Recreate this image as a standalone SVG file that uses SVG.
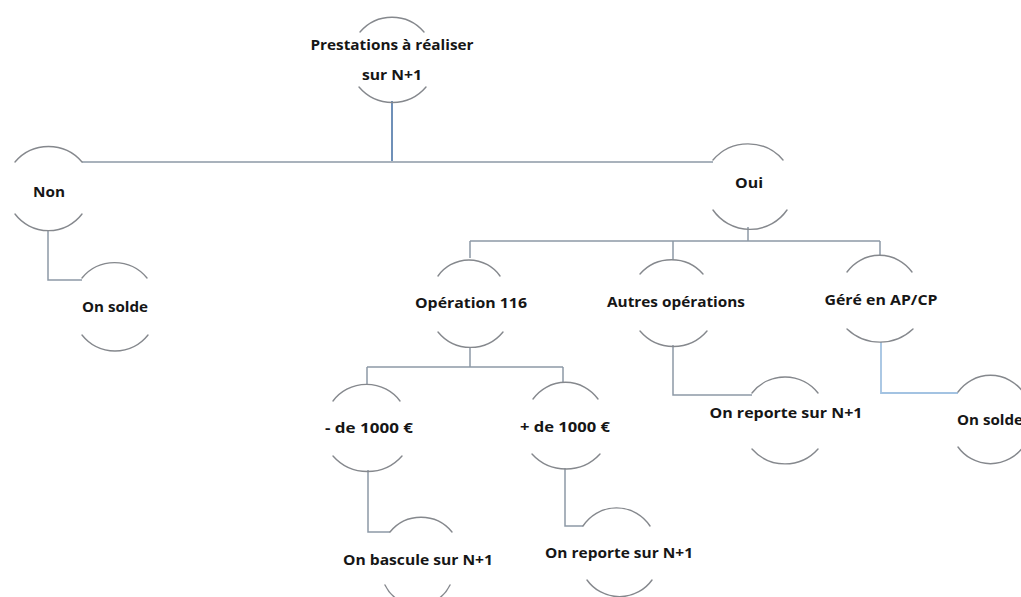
<svg xmlns="http://www.w3.org/2000/svg" width="1021" height="597" viewBox="0 0 1021 597">
  <style>
    .arc { fill: none; stroke: #85888d; stroke-width: 1.4; stroke-linecap: round; }
    .lbl { font-family: "Open Sans", "Noto Sans", "Liberation Sans", sans-serif; font-size: 15px; font-weight: 700; fill: #161616; text-anchor: middle; }
    .link { fill: none; stroke: #8d99a6; stroke-width: 1.5; }
    .link-blue { fill: none; stroke: #6f90b8; stroke-width: 2; }
    .link-light { fill: none; stroke: #a3c3e2; stroke-width: 1.8; }
  </style>
  <rect width="1021" height="597" fill="#ffffff"/>

  <!-- connectors -->
  <g id="connectors">
    <path class="link-blue" d="M392,101 V161"/>
    <path class="link" d="M82,162 H713"/>
    <path class="link" d="M48,230 V280 H82"/>
    <path class="link" d="M748,227 V241"/>
    <path class="link" d="M470,241 H880"/>
    <path class="link" d="M470,241 V258"/>
    <path class="link" d="M673,241 V260"/>
    <path class="link" d="M880,241 V256"/>
    <path class="link" d="M470,347 V367"/>
    <path class="link" d="M367,367 H563"/>
    <path class="link" d="M367,367 V385"/>
    <path class="link" d="M563,367 V383"/>
    <path class="link" d="M368,470 V532 H390"/>
    <path class="link" d="M565,468 V526 H583"/>
    <path class="link" d="M673,345 V395 H752"/>
    <path class="link-light" d="M881,342 V393 H958"/>
  </g>

  <!-- nodes: a circular arc above and below each label -->
  <g id="node-prestations">
    <path class="arc" d="M360,32 A42,42 0 0 1 424,32"/>
    <text class="lbl" x="392" y="50" textLength="163" lengthAdjust="spacingAndGlyphs">Prestations à réaliser</text>
    <text class="lbl" x="392" y="80" textLength="60" lengthAdjust="spacingAndGlyphs">sur N+1</text>
    <path class="arc" d="M359,87 A44,44 0 0 0 426,87"/>
  </g>

  <g id="node-non">
    <path class="arc" d="M15,162 A44,44 0 0 1 82,162"/>
    <text class="lbl" x="49" y="197" textLength="32" lengthAdjust="spacingAndGlyphs">Non</text>
    <path class="arc" d="M15,214 A42,42 0 0 0 82,214"/>
  </g>

  <g id="node-solde-left">
    <path class="arc" d="M82,278 A42,42 0 0 1 147,278"/>
    <text class="lbl" x="115" y="312" textLength="66" lengthAdjust="spacingAndGlyphs">On solde</text>
    <path class="arc" d="M82,335 A42,42 0 0 0 148,335"/>
  </g>

  <g id="node-oui">
    <path class="arc" d="M713,160 A46,46 0 0 1 783,160"/>
    <text class="lbl" x="749" y="188" textLength="28" lengthAdjust="spacingAndGlyphs">Oui</text>
    <path class="arc" d="M713,210 A45,45 0 0 0 787,210"/>
  </g>

  <g id="node-operation-116">
    <path class="arc" d="M438,276 A38,38 0 0 1 500,276"/>
    <text class="lbl" x="471" y="308" textLength="112" lengthAdjust="spacingAndGlyphs">Opération 116</text>
    <path class="arc" d="M438,332 A42,42 0 0 0 503,332"/>
  </g>

  <g id="node-autres">
    <path class="arc" d="M640,274 A42,42 0 0 1 703,274"/>
    <text class="lbl" x="676" y="307" textLength="138" lengthAdjust="spacingAndGlyphs">Autres opérations</text>
    <path class="arc" d="M640,331 A44,44 0 0 0 707,331"/>
  </g>

  <g id="node-gere">
    <path class="arc" d="M847,272 A40,40 0 0 1 912,272"/>
    <text class="lbl" x="881" y="305" textLength="113" lengthAdjust="spacingAndGlyphs">Géré en AP/CP</text>
    <path class="arc" d="M847,329 A48,48 0 0 0 913,329"/>
  </g>

  <g id="node-moins-1000">
    <path class="arc" d="M333,401 A42,42 0 0 1 400,401"/>
    <text class="lbl" x="369" y="433" textLength="88" lengthAdjust="spacingAndGlyphs">- de 1000 €</text>
    <path class="arc" d="M333,456 A46,46 0 0 0 402,456"/>
  </g>

  <g id="node-plus-1000">
    <path class="arc" d="M533,399 A40,40 0 0 1 598,399"/>
    <text class="lbl" x="565" y="432" textLength="90" lengthAdjust="spacingAndGlyphs">+ de 1000 €</text>
    <path class="arc" d="M532,454 A46,46 0 0 0 600,454"/>
  </g>

  <g id="node-reporte-right">
    <path class="arc" d="M752,393 A42,42 0 0 1 818,393"/>
    <text class="lbl" x="786" y="418" textLength="153" lengthAdjust="spacingAndGlyphs">On reporte sur N+1</text>
    <path class="arc" d="M752,449 A44,44 0 0 0 818,449"/>
  </g>

  <g id="node-solde-right">
    <path class="arc" d="M958,392 A40,40 0 0 1 1023,392"/>
    <text class="lbl" x="990" y="425" textLength="66" lengthAdjust="spacingAndGlyphs">On solde</text>
    <path class="arc" d="M958,447 A40,40 0 0 0 1023,447"/>
  </g>

  <g id="node-bascule">
    <path class="arc" d="M390,532 A40,40 0 0 1 452,532"/>
    <text class="lbl" x="418" y="565" textLength="150" lengthAdjust="spacingAndGlyphs">On bascule sur N+1</text>
    <path class="arc" d="M385,585 A36,36 0 0 0 450,585"/>
  </g>

  <g id="node-reporte-bottom">
    <path class="arc" d="M583,526 A40,40 0 0 1 650,526"/>
    <text class="lbl" x="619" y="558" textLength="148" lengthAdjust="spacingAndGlyphs">On reporte sur N+1</text>
    <path class="arc" d="M587,580 A40,40 0 0 0 652,580"/>
  </g>
</svg>
